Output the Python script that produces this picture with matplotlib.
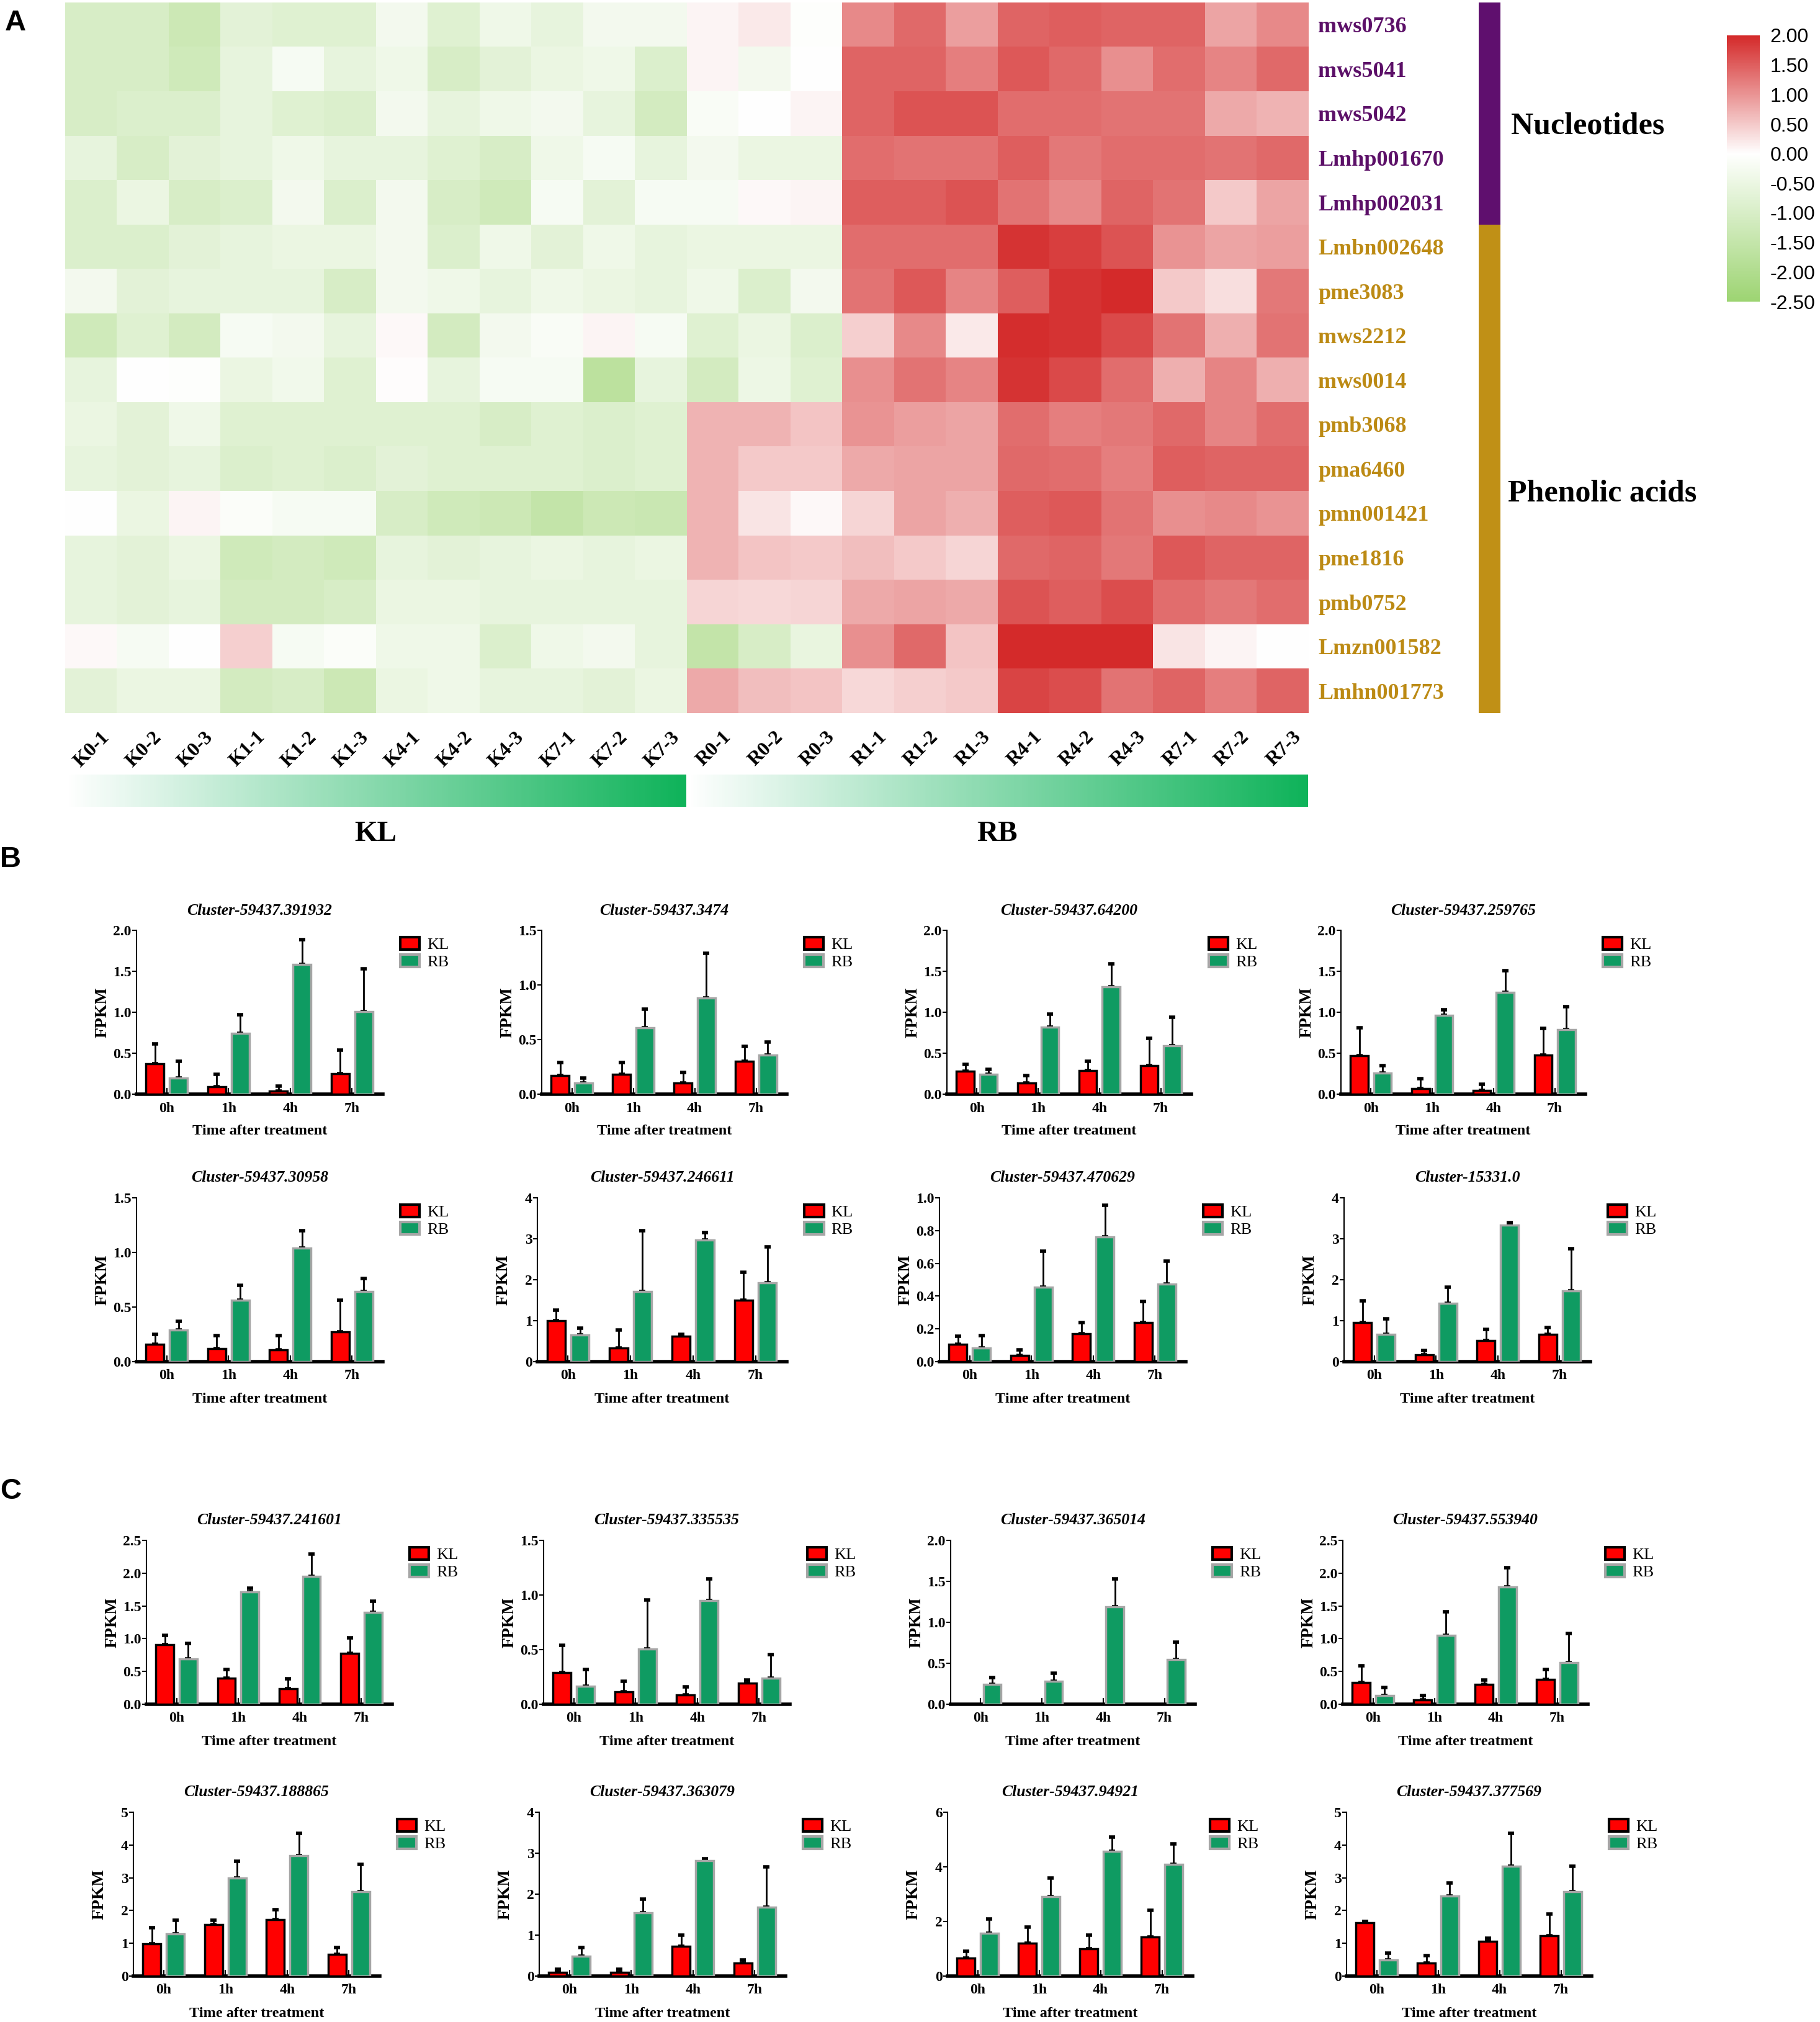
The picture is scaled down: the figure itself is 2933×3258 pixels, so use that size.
import numpy as np
import matplotlib
matplotlib.use("Agg")
import matplotlib.pyplot as plt
from matplotlib.colors import LinearSegmentedColormap, ListedColormap, Normalize
from matplotlib.patches import Patch

plt.rcParams['font.family'] = 'serif'
plt.rcParams['font.serif'] = ['Liberation Serif', 'DejaVu Serif']

W, H = 2933, 3258

# ---------------- panel A data ----------------
metabolites = ["mws0736", "mws5041", "mws5042", "Lmhp001670", "Lmhp002031",
               "Lmbn002648", "pme3083", "mws2212", "mws0014", "pmb3068",
               "pma6460", "pmn001421", "pme1816", "pmb0752", "Lmzn001582",
               "Lmhn001773"]
classes = ["Nucleotides"] * 5 + ["Phenolic acids"] * 11
samples = ["K0-1", "K0-2", "K0-3", "K1-1", "K1-2", "K1-3", "K4-1", "K4-2",
           "K4-3", "K7-1", "K7-2", "K7-3", "R0-1", "R0-2", "R0-3", "R1-1",
           "R1-2", "R1-3", "R4-1", "R4-2", "R4-3", "R7-1", "R7-2", "R7-3"]
zscore = [
    [-1.0, -1.0, -1.3, -0.7, -0.8, -0.8, -0.3, -0.8, -0.4, -0.6, -0.3, -0.3, 0.1, 0.2, -0.05, 1.1, 1.4, 0.9, 1.45, 1.5, 1.45, 1.45, 0.85, 1.1],
    [-1.0, -1.0, -1.2, -0.6, -0.2, -0.6, -0.4, -1.0, -0.7, -0.5, -0.4, -0.9, 0.1, -0.3, 0.0, 1.45, 1.45, 1.2, 1.55, 1.4, 1.05, 1.35, 1.15, 1.4],
    [-1.0, -0.9, -0.9, -0.6, -0.8, -0.9, -0.3, -0.6, -0.4, -0.3, -0.6, -1.1, -0.15, 0.0, 0.1, 1.45, 1.6, 1.6, 1.35, 1.35, 1.3, 1.3, 0.8, 0.7],
    [-0.6, -1.0, -0.7, -0.6, -0.4, -0.6, -0.6, -0.8, -1.0, -0.4, -0.2, -0.6, -0.3, -0.5, -0.5, 1.35, 1.3, 1.3, 1.5, 1.25, 1.35, 1.35, 1.3, 1.4],
    [-0.9, -0.5, -1.0, -0.9, -0.3, -0.9, -0.3, -1.0, -1.2, -0.2, -0.7, -0.2, -0.2, 0.05, 0.1, 1.5, 1.5, 1.6, 1.3, 1.1, 1.45, 1.3, 0.5, 0.85],
    [-0.9, -0.9, -0.7, -0.6, -0.5, -0.5, -0.3, -0.9, -0.4, -0.7, -0.4, -0.6, -0.5, -0.5, -0.5, 1.35, 1.35, 1.35, 1.9, 1.8, 1.6, 1.0, 0.85, 0.9],
    [-0.3, -0.7, -0.6, -0.6, -0.6, -1.0, -0.3, -0.4, -0.6, -0.4, -0.5, -0.6, -0.4, -0.9, -0.3, 1.3, 1.55, 1.15, 1.5, 1.9, 2.1, 0.5, 0.3, 1.25],
    [-1.2, -0.8, -1.1, -0.2, -0.3, -0.6, 0.05, -1.1, -0.3, -0.15, 0.1, -0.2, -0.8, -0.5, -0.9, 0.45, 1.1, 0.2, 1.95, 1.9, 1.7, 1.3, 0.75, 1.3],
    [-0.6, 0.0, -0.05, -0.5, -0.35, -0.8, 0.02, -0.6, -0.2, -0.2, -1.7, -0.6, -1.1, -0.45, -0.8, 1.05, 1.3, 1.15, 1.9, 1.7, 1.35, 0.75, 1.15, 0.75],
    [-0.5, -0.7, -0.4, -0.8, -0.8, -0.8, -0.8, -0.8, -1.0, -0.8, -0.9, -0.8, 0.7, 0.7, 0.55, 1.0, 0.9, 0.85, 1.35, 1.2, 1.25, 1.4, 1.15, 1.35],
    [-0.6, -0.7, -0.6, -0.9, -0.8, -0.9, -0.7, -0.8, -0.8, -0.8, -0.9, -0.8, 0.7, 0.5, 0.5, 0.8, 0.85, 0.85, 1.4, 1.35, 1.2, 1.5, 1.45, 1.45],
    [0.0, -0.5, 0.1, -0.1, -0.2, -0.2, -1.0, -1.2, -1.3, -1.5, -1.3, -1.35, 0.7, 0.25, 0.05, 0.4, 0.85, 0.75, 1.5, 1.55, 1.3, 1.05, 1.1, 1.0],
    [-0.6, -0.7, -0.5, -1.2, -1.1, -1.2, -0.6, -0.7, -0.6, -0.5, -0.6, -0.5, 0.7, 0.55, 0.5, 0.6, 0.5, 0.4, 1.4, 1.45, 1.25, 1.55, 1.45, 1.45],
    [-0.6, -0.7, -0.6, -1.1, -1.1, -1.0, -0.5, -0.5, -0.6, -0.6, -0.6, -0.6, 0.4, 0.35, 0.4, 0.8, 0.85, 0.8, 1.6, 1.5, 1.65, 1.35, 1.25, 1.35],
    [0.05, -0.2, 0.0, 0.45, -0.2, -0.1, -0.4, -0.4, -0.9, -0.4, -0.3, -0.6, -1.5, -1.0, -0.55, 1.05, 1.4, 0.55, 2.0, 2.1, 2.05, 0.25, 0.1, 0.0],
    [-0.7, -0.5, -0.5, -1.1, -1.0, -1.3, -0.5, -0.4, -0.6, -0.6, -0.7, -0.5, 0.8, 0.6, 0.55, 0.35, 0.45, 0.5, 1.75, 1.65, 1.3, 1.45, 1.2, 1.45],
]
groups = ["KL", "RB"]

# ---------------- panels B and C data ----------------
times = ["0h", "1h", "4h", "7h"]
genes = ["Cluster-59437.391932", "Cluster-59437.3474", "Cluster-59437.64200", "Cluster-59437.259765",
         "Cluster-59437.30958", "Cluster-59437.246611", "Cluster-59437.470629", "Cluster-15331.0",
         "Cluster-59437.241601", "Cluster-59437.335535", "Cluster-59437.365014", "Cluster-59437.553940",
         "Cluster-59437.188865", "Cluster-59437.363079", "Cluster-59437.94921", "Cluster-59437.377569"]
kl_mean = [[0.37, 0.09, 0.04, 0.25], [0.17, 0.18, 0.10, 0.30], [0.28, 0.14, 0.29, 0.35], [0.47, 0.07, 0.045, 0.48],
           [0.16, 0.12, 0.11, 0.27], [1.0, 0.33, 0.62, 1.50], [0.107, 0.038, 0.17, 0.237], [0.95, 0.17, 0.51, 0.66],
           [0.91, 0.395, 0.24, 0.78], [0.29, 0.114, 0.087, 0.195], [0, 0, 0, 0], [0.33, 0.066, 0.30, 0.38],
           [0.99, 1.57, 1.72, 0.66], [0.096, 0.086, 0.727, 0.313], [0.67, 1.2, 1.0, 1.43], [1.63, 0.4, 1.07, 1.23]]
kl_sd = [[0.24, 0.15, 0.06, 0.29], [0.12, 0.11, 0.10, 0.14], [0.08, 0.09, 0.11, 0.33], [0.34, 0.12, 0.075, 0.32],
         [0.09, 0.12, 0.13, 0.29], [0.26, 0.45, 0.05, 0.68], [0.05, 0.035, 0.07, 0.13], [0.53, 0.11, 0.28, 0.18],
         [0.14, 0.135, 0.15, 0.23], [0.25, 0.095, 0.074, 0.025], [0, 0, 0, 0], [0.256, 0.07, 0.073, 0.15],
         [0.49, 0.13, 0.30, 0.21], [0.074, 0.074, 0.28, 0.077], [0.23, 0.6, 0.5, 0.97], [0.04, 0.23, 0.08, 0.67]]
rb_mean = [[0.20, 0.74, 1.58, 1.01], [0.10, 0.61, 0.88, 0.36], [0.24, 0.82, 1.31, 0.59], [0.26, 0.96, 1.24, 0.79],
           [0.29, 0.56, 1.04, 0.64], [0.645, 1.71, 2.97, 1.93], [0.082, 0.455, 0.763, 0.474], [0.66, 1.43, 3.34, 1.72],
           [0.69, 1.71, 1.95, 1.40], [0.163, 0.504, 0.95, 0.237], [0.24, 0.28, 1.19, 0.544], [0.13, 1.05, 1.79, 0.63],
           [1.28, 3.0, 3.67, 2.57], [0.48, 1.55, 2.82, 1.68], [1.57, 2.9, 4.57, 4.1], [0.5, 2.45, 3.35, 2.57]]
rb_sd = [[0.20, 0.23, 0.31, 0.52], [0.05, 0.17, 0.41, 0.12], [0.06, 0.16, 0.28, 0.35], [0.085, 0.07, 0.27, 0.28],
         [0.08, 0.14, 0.16, 0.12], [0.175, 1.48, 0.18, 0.88], [0.076, 0.22, 0.19, 0.14], [0.38, 0.39, 0.05, 1.04],
         [0.24, 0.06, 0.34, 0.17], [0.156, 0.45, 0.2, 0.22], [0.084, 0.1, 0.34, 0.217], [0.126, 0.364, 0.29, 0.45],
         [0.42, 0.5, 0.68, 0.84], [0.22, 0.33, 0.05, 0.99], [0.53, 0.7, 0.53, 0.75], [0.2, 0.4, 1.0, 0.78]]
y_max = [2.0, 1.5, 2.0, 2.0, 1.5, 4, 1.0, 4, 2.5, 1.5, 2.0, 2.5, 5, 4, 6, 5]
y_step = [0.5, 0.5, 0.5, 0.5, 0.5, 1, 0.2, 1, 0.5, 0.5, 0.5, 0.5, 1, 1, 2, 1]

# layout (pixels of the final image)
row_top = [1499, 1930, 2482, 2920]
row_h = 264
col_x = [[(220, 617), (873, 1268), (1526, 1920), (2161, 2555)],
         [(220, 617), (866, 1268), (1514, 1911), (2166, 2563)],
         [(236, 632), (876, 1273), (1532, 1926), (2164, 2559)],
         [(215, 612), (869, 1266), (1527, 1922), (2170, 2565)]]


def rect(x0, x1, y0, y1):
    return [x0 / W, 1 - y1 / H, (x1 - x0) / W, (y1 - y0) / H]


fig = plt.figure(figsize=(W / 100, H / 100), dpi=100)

# ---------------- heatmap ----------------
cmap = LinearSegmentedColormap.from_list(
    "gwr", [(0, "#9dd472"), (2.5 / 4.5, "#ffffff"), (1, "#d42a2a")])
norm = Normalize(-2.5, 2.0)
ax = fig.add_axes(rect(105, 2109, 4, 1149))
im = ax.imshow(np.array(zscore), cmap=cmap, norm=norm, aspect="auto",
               extent=(0, len(samples), len(metabolites), 0), interpolation="nearest")
for s in ax.spines.values():
    s.set_visible(False)
ax.set_xticks([])
ax.yaxis.tick_right()
ax.set_yticks(np.arange(len(metabolites)) + 0.5)
ax.set_yticklabels(metabolites, fontsize=26, fontweight="bold")
ax.tick_params(axis="y", length=0, pad=11)
cls_colors = {"Nucleotides": "#5c1068", "Phenolic acids": "#bc8a14"}
for lab, c in zip(ax.get_yticklabels(), classes):
    lab.set_color(cls_colors[c])
for j, s in enumerate(samples):
    ax.text(j + 0.68, 16.34, s, rotation=45, ha="right", va="top",
            rotation_mode="anchor", fontsize=23, fontweight="bold")

# class bar
cax2 = fig.add_axes(rect(2383, 2418, 4, 1149))
cls_idx = np.array([[0 if c == "Nucleotides" else 1] for c in classes])
cax2.imshow(cls_idx, cmap=ListedColormap(["#5f0f6e", "#c09016"]), aspect="auto",
            extent=(0, 1, len(classes), 0), interpolation="nearest")
cax2.axis("off")
fig.text(2435 / W, 1 - 203 / H, "Nucleotides", fontsize=36, fontweight="bold",
         ha="left", va="center")
fig.text(2430 / W, 1 - 796 / H, "Phenolic acids", fontsize=36, fontweight="bold",
         ha="left", va="center")

# colorbar
cbax = fig.add_axes(rect(2783, 2836, 57, 486))
cb = fig.colorbar(im, cax=cbax, ticks=np.arange(-2.5, 2.01, 0.5))
cb.outline.set_visible(False)
cbax.set_yticklabels(["%.2f" % t for t in np.arange(-2.5, 2.01, 0.5)],
                     family="Liberation Sans", fontsize=23)
cbax.tick_params(length=0, pad=12)

# group gradient bars
gax = fig.add_axes(rect(104, 2108, 1248, 1300))
grad_cmap = LinearSegmentedColormap.from_list("wg", ["#ffffff", "#0fb35a"])
ramp = np.linspace(0, 1, 300)
gax.imshow(np.vstack([np.concatenate([ramp, ramp])]), cmap=grad_cmap, aspect="auto",
           extent=(0, 2, 0, 1))
gax.axis("off")
for k, g in enumerate(groups):
    fig.text((104 + 1002 * (k + 0.5)) / W, 1 - 1344 / H, g, fontsize=34,
             fontweight="bold", ha="center", va="center")

# ---------------- bar charts ----------------
red = "#ff0000"
green = "#0f9b62"
x = np.arange(4)
for i in range(16):
    r, c = divmod(i, 4)
    x0, x1 = col_x[r][c]
    ax = fig.add_axes(rect(x0, x1, row_top[r], row_top[r] + row_h))
    kl = np.array(kl_mean[i])
    rb = np.array(rb_mean[i])
    m = kl > 0
    ax.bar(x[m] - 0.19, kl[m], 0.29, color=red, edgecolor="black", lw=2.5, zorder=3)
    ax.bar(x + 0.19, rb, 0.29, color=green, edgecolor="#a6a6a6", lw=2.5, zorder=3)
    ax.errorbar(x[m] - 0.19, kl[m], yerr=[np.zeros(m.sum()), np.array(kl_sd[i])[m]],
                fmt="none", ecolor="black", elinewidth=2, capsize=3.5, capthick=4, zorder=2)
    ax.errorbar(x + 0.19, rb, yerr=[np.zeros(4), rb_sd[i]], fmt="none",
                ecolor="black", elinewidth=2, capsize=3.5, capthick=4, zorder=2)
    ax.set_xlim(-0.49, 3.5)
    ax.set_ylim(0, y_max[i])
    ticks = np.arange(0, y_max[i] + 1e-9, y_step[i])
    ax.set_yticks(ticks)
    if y_step[i] >= 1:
        ax.set_yticklabels(["%d" % t for t in ticks])
    else:
        ax.set_yticklabels(["%.1f" % t for t in ticks])
    ax.set_xticks(x)
    ax.set_xticklabels(times)
    for s in ["top", "right"]:
        ax.spines[s].set_visible(False)
    ax.spines["left"].set_linewidth(1.5)
    ax.spines["bottom"].set_linewidth(4)
    ax.tick_params(axis="y", length=5, width=1.5, pad=1, labelsize=17)
    ax.tick_params(axis="x", direction="in", length=7, width=1.5, pad=9, labelsize=17)
    for lab in ax.get_xticklabels() + ax.get_yticklabels():
        lab.set_fontweight("bold")
    ax.text(0.5, 1 + 32 / row_h, genes[i], transform=ax.transAxes, ha="center",
            va="center", fontsize=18.5, fontweight="bold", style="italic")
    ax.text(-55 / (x1 - x0), 0.5, "FPKM", transform=ax.transAxes, rotation=90,
            ha="center", va="center", fontsize=20, fontweight="bold")
    ax.text(0.5, -60 / row_h, "Time after treatment", transform=ax.transAxes,
            ha="center", va="center", fontsize=17.5, fontweight="bold")
    handles = [Patch(facecolor=red, edgecolor="black", lw=3),
               Patch(facecolor=green, edgecolor="#a6a6a6", lw=3)]
    ax.legend(handles, groups, loc="upper left", bbox_to_anchor=(1.07, 0.96),
              frameon=False, fontsize=19, handlelength=1.2, handleheight=0.8,
              labelspacing=0.15, handletextpad=0.45, borderaxespad=0, borderpad=0)

# panel letters
for lab, (px, py) in zip(["A", "B", "C"], [(25, 37), (17, 1385), (17, 2403)]):
    fig.text(px / W, 1 - py / H, lab, family="Liberation Sans", fontsize=34,
             fontweight="bold", ha="center", va="center")

fig.savefig("out.png", dpi=100)
